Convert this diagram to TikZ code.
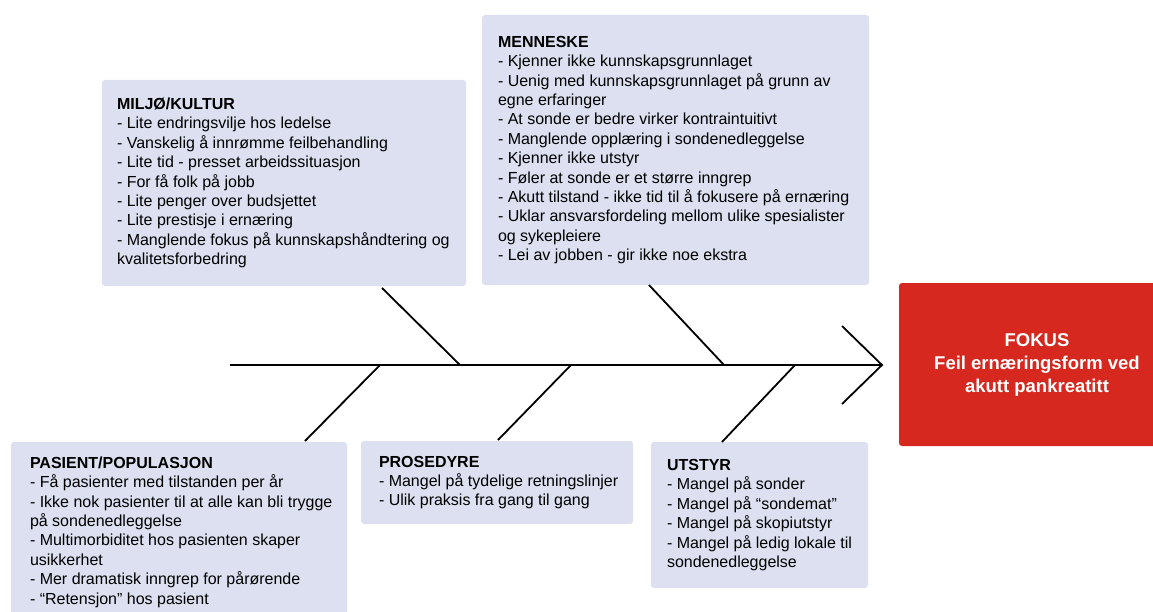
\documentclass[tikz,border=0pt]{standalone}
\usepackage{fontspec}
\setmainfont{Liberation Sans}
\definecolor{boxfill}{RGB}{221,224,240}
\definecolor{fokusred}{RGB}{214,40,31}
\tikzset{
  causebox/.style={fill=boxfill, rounded corners=3pt, inner sep=0pt},
  causetext/.style={anchor=west, align=left, inner sep=0pt, font=\fontsize{16}{19.4}\selectfont},
  fokusbox/.style={fill=fokusred, text=white, rounded corners=3pt, align=center, inner sep=0pt,
    font=\bfseries\fontsize{18.5}{23}\selectfont},
  bone/.style={line width=1.8pt}
}
\begin{document}
\begin{tikzpicture}[x=1pt, y=-1pt]
\useasboundingbox (0,0) rectangle (1153,612);
\clip (0,0) rectangle (1153,612);

\node [causebox, minimum width=364pt, minimum height=206pt] (miljo) at (284,183) {};
\node [causetext] (miljo text) at ([xshift=15pt]miljo.west) {\textbf{MILJØ/KULTUR}\\
- Lite endringsvilje hos ledelse\\
- Vanskelig å innrømme feilbehandling\\
- Lite tid - presset arbeidssituasjon\\
- For få folk på jobb\\
- Lite penger over budsjettet\\
- Lite prestisje i ernæring\\
- Manglende fokus på kunnskapshåndtering og\\
kvalitetsforbedring};

\node [causebox, minimum width=387pt, minimum height=270pt] (menneske) at (675.5,150) {};
\node [causetext] (menneske text) at ([xshift=16pt]menneske.west) {\textbf{MENNESKE}\\
- Kjenner ikke kunnskapsgrunnlaget\\
- Uenig med kunnskapsgrunnlaget på grunn av\\
egne erfaringer\\
- At sonde er bedre virker kontraintuitivt\\
- Manglende opplæring i sondenedleggelse\\
- Kjenner ikke utstyr\\
- Føler at sonde er et større inngrep\\
- Akutt tilstand - ikke tid til å fokusere på ernæring\\
- Uklar ansvarsfordeling mellom ulike spesialister\\
og sykepleiere\\
- Lei av jobben - gir ikke noe ekstra};

\node [causebox, minimum width=336pt, minimum height=188pt] (pasient) at (179,536) {};
\node [causetext] (pasient text) at ([xshift=19pt, yshift=4pt]pasient.west) {\textbf{PASIENT/POPULASJON}\\
- Få pasienter med tilstanden per år\\
- Ikke nok pasienter til at alle kan bli trygge\\
på sondenedleggelse\\
- Multimorbiditet hos pasienten skaper\\
usikkerhet\\
- Mer dramatisk inngrep for pårørende\\
- “Retensjon” hos pasient};

\node [causebox, minimum width=272pt, minimum height=83pt] (prosedyre) at (497,482.5) {};
\node [causetext] (prosedyre text) at ([xshift=18pt]prosedyre.west) {\textbf{PROSEDYRE}\\
- Mangel på tydelige retningslinjer\\
- Ulik praksis fra gang til gang};

\node [causebox, minimum width=217pt, minimum height=146pt] (utstyr) at (759.5,515) {};
\node [causetext] (utstyr text) at ([xshift=16pt]utstyr.west) {\textbf{UTSTYR}\\
- Mangel på sonder\\
- Mangel på “sondemat”\\
- Mangel på skopiutstyr\\
- Mangel på ledig lokale til\\
sondenedleggelse};

\node [fokusbox, minimum width=276pt, minimum height=163pt] (fokus) at (1037,364.5) {FOKUS\\Feil ernæringsform ved\\akutt pankreatitt};

\node [] (0) at (230,365) {};
\node [] (1) at (882,365) {};
\node [] (2) at (842,326) {};
\node [] (3) at (842,404) {};
\node [] (4) at (382,288) {};
\node [] (5) at (460,365) {};
\node [] (6) at (649,285) {};
\node [] (7) at (724,365) {};
\node [] (8) at (380,365) {};
\node [] (9) at (305,441) {};
\node [] (10) at (571,365) {};
\node [] (11) at (498,440) {};
\node [] (12) at (795,365) {};
\node [] (13) at (722,442) {};
\draw [bone] (0.center) to (1.center);
\draw [bone] (2.center) to (1.center) to (3.center);
\draw [bone] (4.center) to (5.center);
\draw [bone] (6.center) to (7.center);
\draw [bone] (8.center) to (9.center);
\draw [bone] (10.center) to (11.center);
\draw [bone] (12.center) to (13.center);
\end{tikzpicture}
\end{document}
